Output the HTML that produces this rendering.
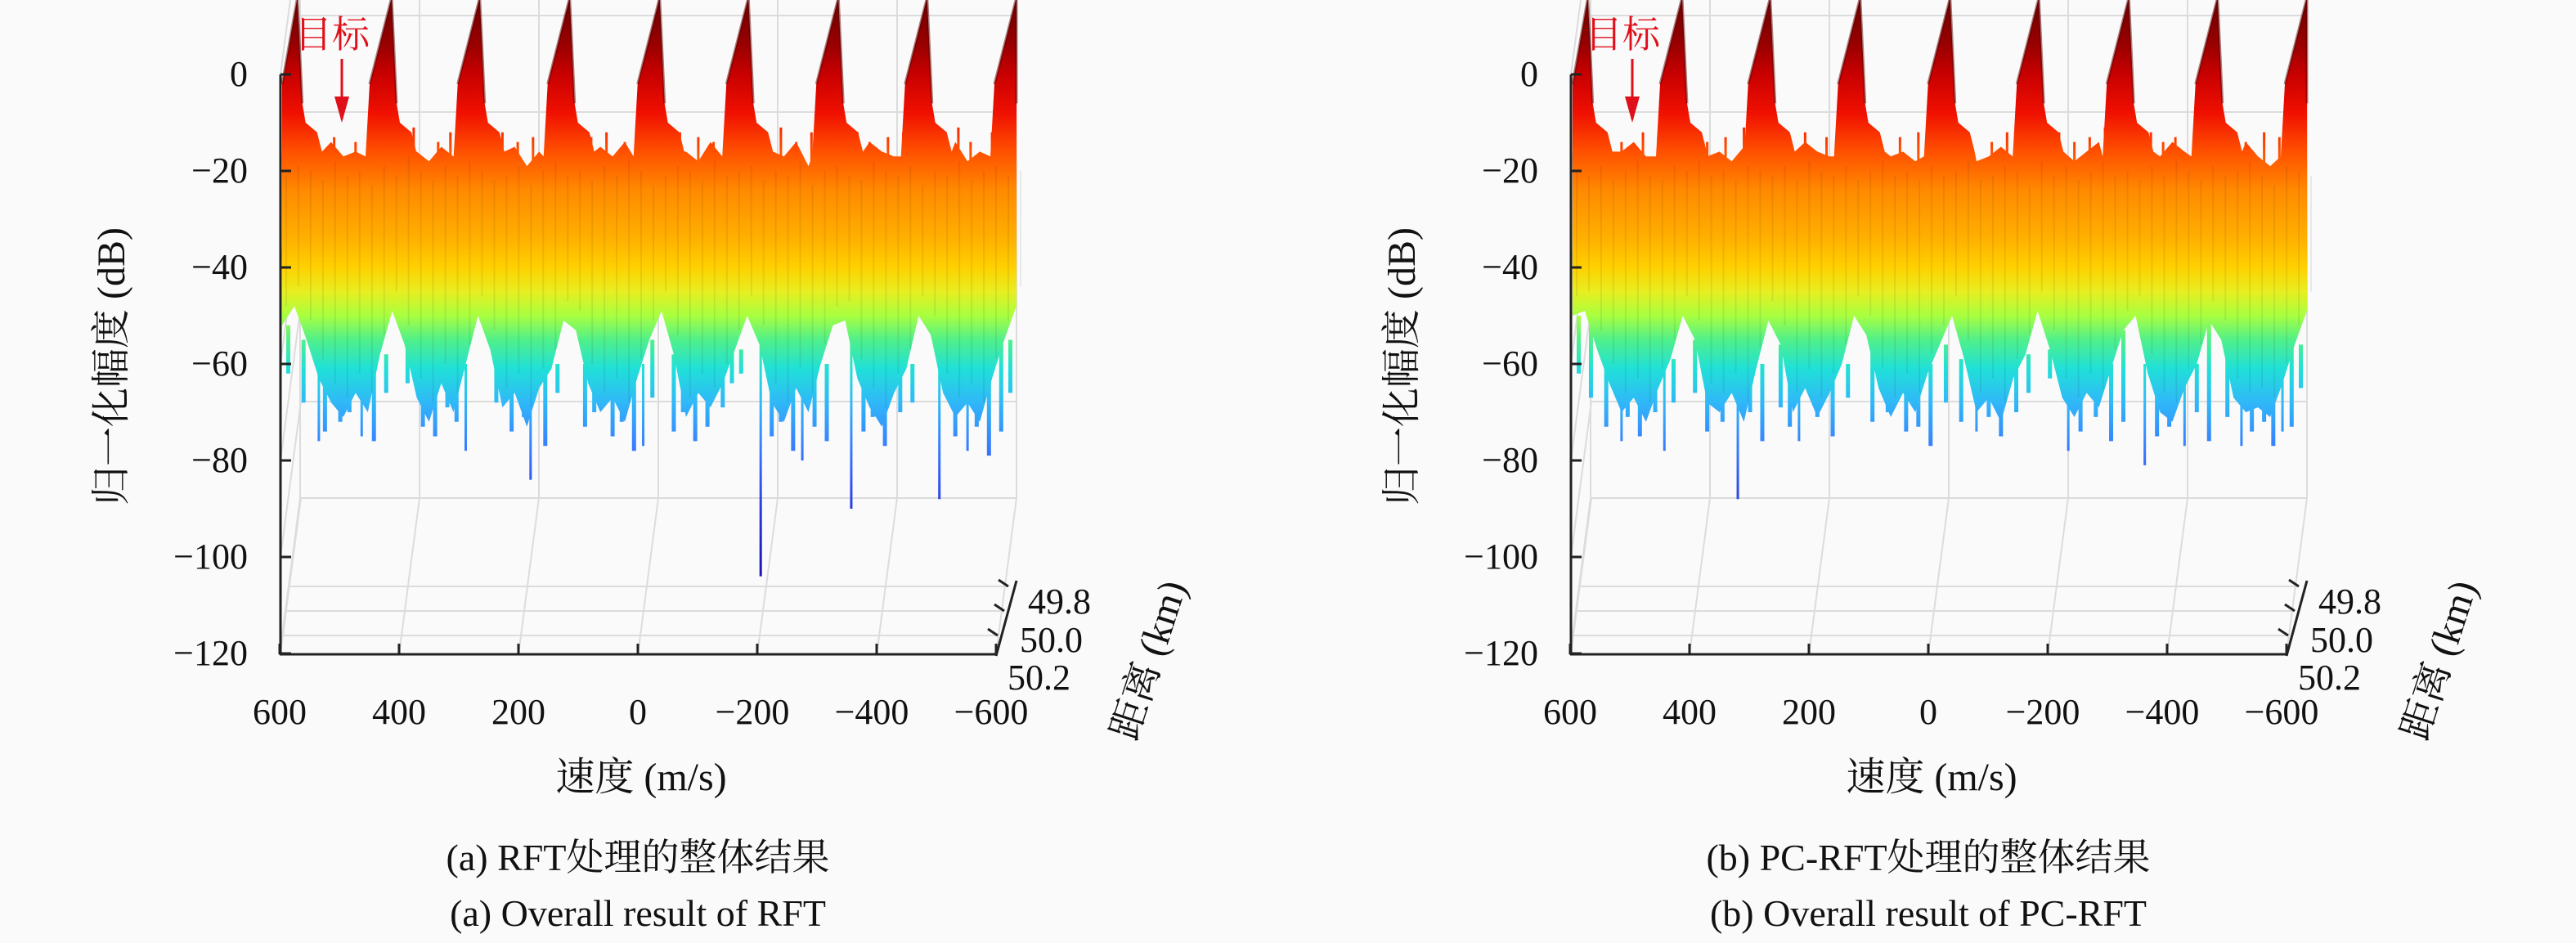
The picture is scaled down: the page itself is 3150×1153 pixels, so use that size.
<!DOCTYPE html>
<html><head><meta charset="utf-8"><style>
html,body{margin:0;padding:0;background:#fafafa;}
svg{display:block;}
</style></head><body>
<svg id="fig" width="3150" height="1153" viewBox="0 0 3150 1153" xmlns="http://www.w3.org/2000/svg" font-family="'Liberation Serif','Noto Serif CJK SC',serif"></svg>
<script>
const vel = [600,580,560,540,520,500,480,460,440,420,400,380,360,340,320,300,280,260,240,220,200,180,160,140,120,100,80,60,40,20,0,-20,-40,-60,-80,-100,-120,-140,-160,-180,-200,-220,-240,-260,-280,-300,-320,-340,-360,-380,-400,-420,-440,-460,-480,-500,-520,-540,-560,-580,-600];
const peakV = [575,421,277,130,-17,-162,-309,-454,-600];
const peakDB = [16,16,16,16,16,16,16,16,16];
const upperA = [-17,-15,-16,-18,-14,-17,-16,-19,-15,-17,
 -13,-16,-18,-15,-17,-14,-16,-18,-17,-15,
 -19,-16,-14,-17,-16,-18,-15,-17,-14,-16,
 -19,-17,-15,-16,-18,-14,-17,-16,-15,-18,
 -16,-17,-14,-19,-16,-15,-17,-18,-14,-16,
 -17,-15,-19,-16,-17,-14,-18,-16,-15,-17,-16];
const lowerA = [-52,-48,-55,-63,-68,-71,-66,-70,-58,-49,
 -56,-67,-72,-64,-70,-60,-50,-57,-69,-66,
 -73,-65,-61,-51,-53,-64,-70,-67,-72,-63,
 -55,-49,-58,-71,-66,-69,-64,-57,-50,-56,
 -68,-72,-65,-70,-60,-52,-51,-63,-69,-73,
 -66,-61,-50,-54,-66,-71,-68,-72,-63,-55,-48];
const spikeVA = [194,-182,-330,-474,540,470,300,10,-250,-520,
 590,565,530,505,490,450,430,395,370,350,330,315,250,225,205,170,150,105,90,60,45,25,-5,-40,-55,-75,-95,-120,-135,-150,-200,-215,-235,-270,-290,-350,-365,-385,-410,-430,-500,-535,-555,-575,-590];
const spikeDBA = [-84,-104,-90,-88,-76,-75,-78,-77,-80,-78,
 -62,-68,-74,-72,-70,-76,-66,-64,-73,-75,-69,-72,-68,-74,-71,-77,-66,-73,-70,-75,-72,-78,-67,-74,-70,-76,-73,-69,-64,-62,-75,-72,-78,-73,-76,-74,-71,-77,-70,-68,-75,-73,-79,-74,-66];
const upSpikeVA = [585,545,515,480,455,400,385,345,325,300,240,215,190,165,95,70,40,10,-50,-80,-105,-130,-190,-215,-240,-265,-285,-340,-360,-390,-415,-480,-505,-525,-560,-580];
const upSpikeDBA = [-13,-12,-13,-14,-12,-13,-11,-14,-12,-13,-12,-14,-13,-11,-13,-12,-14,-13,-12,-13,-14,-12,-13,-11,-14,-12,-13,-12,-14,-13,-12,-13,-11,-14,-12,-13];
const upperB = [-16,-17,-15,-18,-16,-14,-17,-18,-15,-16,
 -14,-17,-16,-18,-15,-16,-17,-15,-18,-14,
 -16,-17,-15,-18,-16,-14,-17,-16,-18,-15,
 -17,-16,-14,-18,-17,-15,-16,-19,-14,-17,
 -15,-18,-16,-14,-17,-16,-18,-15,-17,-14,
 -16,-18,-15,-17,-16,-14,-17,-19,-15,-16,-17];
const lowerB = [-50,-49,-57,-64,-70,-67,-72,-65,-59,-50,
 -55,-68,-70,-66,-72,-61,-51,-56,-70,-65,
 -71,-66,-60,-50,-54,-65,-71,-66,-70,-62,
 -56,-50,-59,-70,-67,-72,-63,-58,-49,-57,
 -67,-71,-66,-69,-61,-53,-50,-62,-70,-72,
 -65,-60,-51,-55,-67,-70,-69,-71,-64,-56,-49];
const spikeVB = [330,-335,-493,520,450,230,-60,-210,-400,-560,
 590,570,545,510,490,465,435,400,380,355,310,290,260,245,200,175,150,110,85,55,35,15,-10,-35,-80,-100,-125,-145,-180,-230,-255,-280,-300,-355,-375,-420,-440,-470,-510,-530,-545,-575,-590];
const spikeDBB = [-88,-81,-77,-76,-78,-76,-74,-78,-77,-74,
 -62,-67,-73,-71,-75,-70,-68,-66,-74,-72,-70,-76,-69,-73,-71,-75,-67,-72,-70,-74,-73,-77,-68,-72,-71,-75,-70,-66,-63,-74,-71,-76,-72,-75,-73,-70,-76,-71,-74,-72,-77,-73,-65];
const upSpikeVB = [590,550,520,485,460,405,380,350,320,295,245,220,185,160,100,65,35,5,-45,-85,-110,-135,-195,-220,-245,-270,-290,-345,-365,-385,-420,-485,-500,-530,-555,-585];
const upSpikeDBB = [-12,-13,-14,-12,-13,-12,-14,-13,-11,-13,-14,-12,-13,-12,-14,-13,-12,-11,-13,-14,-12,-13,-12,-14,-13,-11,-13,-12,-14,-13,-12,-13,-14,-12,-13,-12];
const yTicks = [0,-20,-40,-60,-80,-100,-120];
const xTicks = [600,400,200,0,-200,-400,-600];
const depthTicks = ['49.8','50.0','50.2'];

const NS='http://www.w3.org/2000/svg';
const svg=document.getElementById('fig');
function mk(tag,attrs,parent){const e=document.createElementNS(NS,tag);for(const k in attrs)e.setAttribute(k,attrs[k]);(parent||svg).appendChild(e);return e;}
const yOf=d=>91-d*5.9;
const fmt=v=>(v<0?'\u2212'+Math.abs(v):''+v);
const stops=[[16,'#6a0000'],[6,'#9a0000'],[0,'#c80000'],[-8,'#f01000'],[-16,'#ff5000'],[-24,'#ff8a00'],[-34,'#ffb000'],[-40,'#ffd000'],[-45,'#e8ee20'],[-50,'#a8ff40'],[-55,'#50f08a'],[-61,'#20e0d8'],[-68,'#30b8f8'],[-78,'#3878ff'],[-90,'#2a3ae0'],[-105,'#1a10b0']];
const defs=mk('defs',{});
const grad=mk('linearGradient',{id:'jet',gradientUnits:'userSpaceOnUse',x1:0,y1:yOf(16),x2:0,y2:yOf(-105)},defs);
stops.forEach(s=>{mk('stop',{offset:((16-s[0])/121).toFixed(4),'stop-color':s[1]},grad);});

function panel(ox,tag,upper,lower,spV,spDB,uV,uDB,cap1,cap2){
  const g=mk('g',{});
  
  
  const L=ox+345,R=ox+1243;
  const sx=v=>L+(600-v)/1200*898;
  const fx=v=>ox+342+(600-v)/1200*876;
  const grid=mk('g',{stroke:'#dcdcdc','stroke-width':2,fill:'none'},g);
  
  
  xTicks.forEach(t=>{const x=fx(t);
    mk('line',{x1:x+25,y1:0,x2:x+25,y2:609},grid);
    mk('line',{x1:x,y1:800,x2:x+25,y2:609},grid);});
  yTicks.forEach(d=>{const y=yOf(d)-190;if(y>0)mk('line',{x1:ox+368,y1:y,x2:ox+1243,y2:y},grid);
    mk('line',{x1:ox+343,y1:yOf(d),x2:ox+368,y2:yOf(d)-190},grid);});
  [717,747,777].forEach((y,i)=>{mk('line',{x1:ox+343+(800-y)*0.13,y1:y,x2:ox+1233-i*6,y2:y},grid);});
  const nearest=v=>{let j=0,b=1e9;vel.forEach((c,n)=>{if(Math.abs(c-v)<b){b=Math.abs(c-v);j=n;}});return j;};
  spV.forEach((v,i)=>{const x=sx(v);const j=nearest(v);
    const s=mk('line',{x1:x,y1:yOf(Math.max(lower[j],-60)),x2:x,y2:yOf(spDB[i]),stroke:'url(#jet)','stroke-width':i<10?3:5},g);
    
    });
  const pts=[];
  const fin=[[-32,-17],[-27,-2],[0,1],[6,-6],[10,-10],[24,-12],[30,-16]];
  const ranges=peakV.map(p=>[sx(p)-32,sx(p)+30]);
  vel.forEach((v,i)=>{const x=sx(v);if(!ranges.some(r=>x>r[0]&&x<r[1]))pts.push([x,yOf(upper[i])]);});
  peakV.forEach((p,k)=>{const tx=sx(p);fin.forEach(f=>{const d=f[0]===0?peakDB[k]:f[1];pts.push([Math.min(R,Math.max(L,tx+f[0])),yOf(d)]);});});
  pts.sort((a,b)=>a[0]-b[0]);
  const low=vel.map((v,i)=>[sx(v),yOf(lower[i])]).reverse();
  const all=pts.concat(low);
  const surf=mk('path',{d:'M'+all.map(p=>p[0].toFixed(1)+','+p[1].toFixed(1)).join('L')+'Z',fill:'url(#jet)',stroke:'none'},g);
  
  
  uV.forEach((v,i)=>{const x=sx(v);const j=nearest(v);
    const s=mk('line',{x1:x,y1:yOf(upper[j]-3),x2:x,y2:yOf(uDB[i]),stroke:'url(#jet)','stroke-width':3},g);
    
    });
  const st=mk('g',{stroke:'#000','stroke-opacity':0.07,'stroke-width':2},g);
  
  
  vel.forEach((v,i)=>{const x=sx(v)+5;mk('line',{x1:x,y1:yOf(upper[i]-4),x2:x,y2:yOf(lower[i]+4)},st);});
  peakV.forEach((p,k)=>{const tx=sx(p);const l=mk('path',{d:`M${Math.max(L,tx-27)},${yOf(-2)}L${tx},${yOf(peakDB[k])}L${Math.min(R,tx+6)},${yOf(-6)}`,fill:'none',stroke:'#5a0000','stroke-width':3,'stroke-opacity':0.5},g);
    
    });
  const ax=mk('g',{stroke:'#222','stroke-width':3,fill:'none'},g);
  
  
  mk('line',{x1:ox+343,y1:yOf(0),x2:ox+343,y2:801},ax);
  mk('line',{x1:ox+342,y1:800,x2:ox+1218,y2:800},ax);
  mk('line',{x1:ox+1218,y1:802,x2:ox+1243,y2:710},ax);
  yTicks.forEach(d=>mk('line',{x1:ox+343,y1:yOf(d),x2:ox+356,y2:yOf(d)},ax));
  xTicks.forEach(t=>mk('line',{x1:fx(t),y1:800,x2:fx(t),y2:787},ax));
  [[1233,717],[1228,747],[1220,777]].forEach(p=>mk('line',{x1:ox+p[0],y1:p[1],x2:ox+p[0]-12,y2:p[1]-8},ax));
  yTicks.forEach(d=>{const t=mk('text',{x:ox+303,y:yOf(d)+14,'font-size':44,'text-anchor':'end',fill:'#111'},g);t.textContent=fmt(d);
    
    });
  xTicks.forEach(v=>{const t=mk('text',{x:fx(v)+(v<0?-6:0),y:885,'font-size':44,'text-anchor':'middle',fill:'#111'},g);t.textContent=fmt(v);
    
    });
  [[1257,750],[1247,797],[1232,843]].forEach((p,i)=>{const t=mk('text',{x:ox+p[0],y:p[1],'font-size':44,fill:'#111'},g);t.textContent=depthTicks[i];
    
    });
  const yl=mk('text',{x:0,y:0,'font-size':48,'text-anchor':'middle',fill:'#111',transform:`translate(${ox+152},448) rotate(-90)`},g);yl.textContent='归一化幅度 (dB)';
  
  
  const xl=mk('text',{x:ox+784,y:966,'font-size':48,'text-anchor':'middle',fill:'#111'},g);xl.textContent='速度 (m/s)';
  
  
  const dl=mk('text',{x:0,y:0,'font-size':48,'text-anchor':'middle',fill:'#111',transform:`translate(${ox+1420},812) rotate(-72)`},g);dl.textContent='距离 (km)';
  
  
  const tg=mk('text',{x:ox+360,y:58,'font-size':46,fill:'#e0101a'},g);tg.textContent='目标';
  
  
  const ar=mk('path',{d:`M${ox+418},72L${ox+418},146`,stroke:'#e0101a','stroke-width':3,fill:'none'},g);
  
  
  const ah=mk('path',{d:`M${ox+409},118L${ox+418},150L${ox+427},118Z`,fill:'#e0101a'},g);
  
  
  const c1=mk('text',{x:ox+780,y:1064,'font-size':46,'text-anchor':'middle',fill:'#111'},g);c1.textContent=cap1;
  
  
  const c2=mk('text',{x:ox+780,y:1132,'font-size':46,'text-anchor':'middle',fill:'#111'},g);c2.textContent=cap2;
  
  
}
panel(0,'a',upperA,lowerA,spikeVA,spikeDBA,upSpikeVA,upSpikeDBA,'(a) RFT处理的整体结果','(a) Overall result of RFT');
panel(1578,'b',upperB,lowerB,spikeVB,spikeDBB,upSpikeVB,upSpikeDBB,'(b) PC-RFT处理的整体结果','(b) Overall result of PC-RFT');
</script>
</body></html>
